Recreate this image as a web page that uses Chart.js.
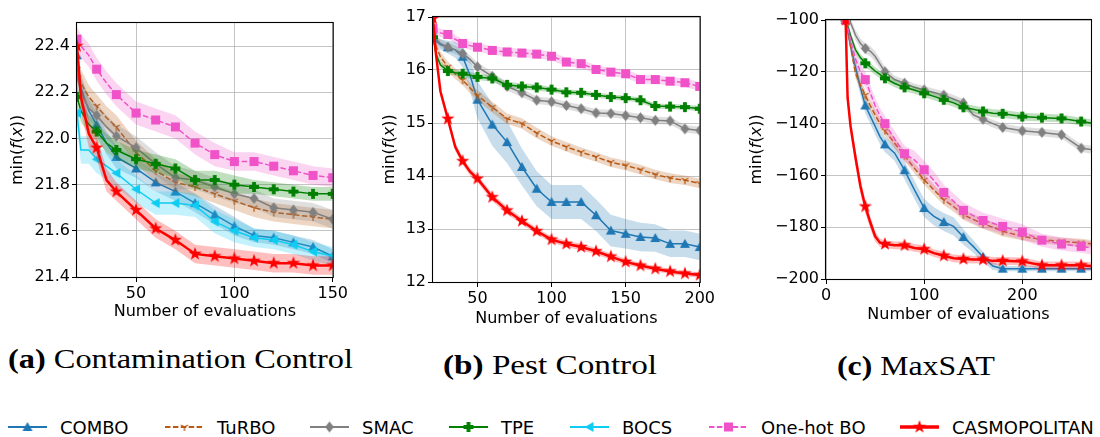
<!DOCTYPE html>
<html>
<head>
<meta charset="utf-8">
<script src="https://cdn.jsdelivr.net/npm/chart.js@4/dist/chart.umd.min.js"></script>
<style>
  body { margin: 0; background: #fff; width: 1100px; height: 437px; position: relative; overflow: hidden; font-family: "DejaVu Sans", sans-serif; }
  canvas.panel { position: absolute; top: 0; }
  .cap { position: absolute; font-family: "Liberation Serif", serif; font-size: 27px; white-space: nowrap; transform-origin: 0 50%; color: #000; line-height: 30px; }
  .leg { position: absolute; display: flex; align-items: center; font-size: 18px; white-space: nowrap; color: #000; }
  .leg canvas { margin-right: 13px; }
</style>
</head>
<body>
<canvas class="panel" id="chartA"></canvas>
<canvas class="panel" id="chartB"></canvas>
<canvas class="panel" id="chartC"></canvas>

<div class="cap" id="capA" data-left="8" data-mid="359" data-width="345"><b>(a)</b> Contamination Control</div>
<div class="cap" id="capB" data-left="443" data-mid="365" data-width="214"><b>(b)</b> Pest Control</div>
<div class="cap" id="capC" data-left="837" data-mid="366" data-width="158"><b>(c)</b> MaxSAT</div>

<div id="legend"></div>

<script>
// ---- series names (legend order) ----
const names = ["COMBO", "TuRBO", "SMAC", "TPE", "BOCS", "One-hot BO", "CASMOPOLITAN"];

// ---- (a) Contamination Control ----
const xA = [20, 22, 26, 30, 35, 40, 50, 60, 70, 80, 90, 100, 110, 120, 130, 140, 150];
const comboA  = [22.36, 22.22, 22.12, 22.06, 21.98, 21.92, 21.87, 21.81, 21.77, 21.72, 21.67, 21.62, 21.58, 21.57, 21.55, 21.53, 21.49];
const turboA  = [22.30, 22.24, 22.18, 22.14, 22.09, 22.05, 21.94, 21.86, 21.81, 21.79, 21.76, 21.73, 21.70, 21.68, 21.67, 21.66, 21.65];
const smacA   = [22.27, 22.20, 22.13, 22.10, 22.05, 22.01, 21.96, 21.89, 21.83, 21.82, 21.79, 21.76, 21.74, 21.70, 21.69, 21.68, 21.65];
const tpeA    = [22.18, 22.12, 22.06, 22.03, 21.98, 21.95, 21.91, 21.89, 21.87, 21.82, 21.82, 21.80, 21.79, 21.78, 21.77, 21.76, 21.76];
const bocsA   = [22.11, 21.95, 21.95, 21.91, 21.88, 21.85, 21.78, 21.72, 21.72, 21.71, 21.64, 21.60, 21.57, 21.56, 21.54, 21.51, 21.49];
const onehotA = [22.43, 22.40, 22.36, 22.30, 22.24, 22.19, 22.11, 22.08, 22.05, 21.98, 21.93, 21.90, 21.90, 21.88, 21.86, 21.84, 21.83];
const casmoA  = [22.40, 22.18, 22.02, 21.96, 21.82, 21.77, 21.69, 21.61, 21.56, 21.50, 21.49, 21.48, 21.47, 21.46, 21.46, 21.45, 21.45];
// half-width of the shaded bands
const comboSA  = [0.06, 0.06, 0.05, 0.05, 0.05, 0.05, 0.04, 0.04, 0.04, 0.04, 0.04, 0.04, 0.03, 0.03, 0.03, 0.03, 0.03];
const turboSA  = [0.06, 0.06, 0.05, 0.05, 0.05, 0.05, 0.05, 0.05, 0.04, 0.04, 0.04, 0.04, 0.04, 0.04, 0.04, 0.04, 0.04];
const smacSA   = [0.06, 0.06, 0.05, 0.05, 0.05, 0.05, 0.05, 0.05, 0.05, 0.04, 0.04, 0.04, 0.04, 0.04, 0.04, 0.04, 0.04];
const tpeSA    = [0.05, 0.05, 0.04, 0.04, 0.04, 0.04, 0.04, 0.04, 0.04, 0.04, 0.04, 0.04, 0.03, 0.03, 0.03, 0.03, 0.03];
const bocsSA   = [0.06, 0.06, 0.06, 0.06, 0.06, 0.06, 0.06, 0.05, 0.05, 0.05, 0.05, 0.05, 0.04, 0.04, 0.04, 0.04, 0.04];
const onehotSA = [0.05, 0.05, 0.05, 0.05, 0.05, 0.05, 0.05, 0.05, 0.05, 0.05, 0.05, 0.04, 0.04, 0.04, 0.04, 0.04, 0.04];
const casmoSA  = [0.05, 0.06, 0.06, 0.05, 0.05, 0.04, 0.04, 0.04, 0.04, 0.04, 0.04, 0.04, 0.04, 0.04, 0.04, 0.04, 0.04];
const xTicksA = [50, 100, 150];
const yTicksA = [21.4, 21.6, 21.8, 22.0, 22.2, 22.4];

// ---- (b) Pest Control ----
const xB = [20, 22, 25, 30, 35, 40, 45, 50, 60, 70, 80, 90, 100, 110, 120, 130, 140, 150, 160, 170, 180, 190, 200];
const comboB  = [16.62, 16.55, 16.48, 16.43, 16.38, 16.25, 15.90, 15.44, 14.97, 14.64, 14.17, 13.76, 13.51, 13.51, 13.51, 13.26, 12.97, 12.91, 12.85, 12.83, 12.72, 12.72, 12.66];
const turboB  = [16.62, 16.45, 16.25, 16.06, 15.93, 15.81, 15.66, 15.52, 15.30, 15.08, 14.99, 14.81, 14.66, 14.55, 14.45, 14.36, 14.26, 14.20, 14.12, 14.03, 13.96, 13.92, 13.86];
const smacB   = [16.69, 16.60, 16.50, 16.43, 16.38, 16.31, 16.20, 16.06, 15.88, 15.69, 15.57, 15.43, 15.40, 15.33, 15.27, 15.19, 15.18, 15.14, 15.10, 15.05, 15.04, 14.89, 14.86];
const tpeB    = [16.62, 16.30, 16.10, 15.98, 15.95, 15.93, 15.90, 15.87, 15.84, 15.72, 15.69, 15.67, 15.63, 15.58, 15.57, 15.53, 15.49, 15.47, 15.43, 15.32, 15.31, 15.30, 15.27];
const onehotB = [16.78, 16.74, 16.70, 16.67, 16.58, 16.50, 16.46, 16.43, 16.37, 16.34, 16.32, 16.30, 16.26, 16.15, 16.12, 16.01, 15.96, 15.93, 15.82, 15.82, 15.79, 15.76, 15.69];
const casmoB  = [16.97, 16.30, 15.60, 15.08, 14.55, 14.28, 14.08, 13.95, 13.60, 13.35, 13.15, 12.96, 12.80, 12.72, 12.66, 12.58, 12.48, 12.38, 12.31, 12.25, 12.20, 12.16, 12.13];
const comboSB  = [0.05, 0.07, 0.10, 0.12, 0.15, 0.20, 0.30, 0.35, 0.40, 0.40, 0.35, 0.33, 0.32, 0.32, 0.32, 0.30, 0.30, 0.28, 0.27, 0.26, 0.25, 0.25, 0.25];
const turboSB  = [0.10, 0.10, 0.10, 0.10, 0.10, 0.10, 0.10, 0.10, 0.10, 0.10, 0.10, 0.10, 0.09, 0.09, 0.09, 0.09, 0.09, 0.09, 0.09, 0.09, 0.09, 0.09, 0.09];
const smacSB   = [0.08, 0.08, 0.08, 0.08, 0.08, 0.08, 0.08, 0.08, 0.08, 0.08, 0.08, 0.07, 0.07, 0.07, 0.07, 0.07, 0.07, 0.07, 0.07, 0.07, 0.07, 0.07, 0.07];
const tpeSB    = [0.08, 0.07, 0.06, 0.06, 0.06, 0.06, 0.06, 0.06, 0.06, 0.06, 0.06, 0.06, 0.05, 0.05, 0.05, 0.05, 0.05, 0.05, 0.05, 0.05, 0.05, 0.05, 0.05];
const onehotSB = [0.08, 0.08, 0.08, 0.08, 0.08, 0.08, 0.08, 0.08, 0.08, 0.08, 0.08, 0.08, 0.08, 0.08, 0.08, 0.08, 0.08, 0.08, 0.08, 0.08, 0.08, 0.08, 0.08];
const casmoSB  = [0.08, 0.09, 0.09, 0.08, 0.08, 0.07, 0.07, 0.07, 0.07, 0.07, 0.06, 0.06, 0.06, 0.06, 0.06, 0.06, 0.06, 0.06, 0.05, 0.05, 0.05, 0.05, 0.05];
const xTicksB = [50, 100, 150, 200];
const yTicksB = [12, 13, 14, 15, 16, 17];

// ---- (c) MaxSAT ----
const xC = [20, 22, 25, 30, 35, 40, 45, 50, 55, 60, 70, 80, 90, 100, 110, 120, 130, 140, 150, 160, 170, 180, 200, 220, 240, 260, 270];
const comboC  = [-100, -104, -110, -118, -126, -133, -137, -141, -145, -148, -151.4, -158, -165.5, -172.6, -175.8, -178, -179.7, -183.8, -187.4, -191.5, -195, -196, -196, -196, -196, -196, -196];
const turboC  = [-100, -103, -110, -120.5, -125, -129, -133, -136.6, -140, -142.7, -147.6, -152.4, -157.2, -161.7, -165.6, -169.4, -172, -175.2, -177, -178.7, -180, -181.6, -183.5, -184.8, -185.5, -186, -186.4];
const smacC   = [-100, -100, -101, -105.8, -109, -111, -112, -114, -117, -120, -123, -124.4, -126, -127, -128, -129, -130.5, -132, -136.6, -138.3, -140, -141.5, -142.8, -143.4, -144.3, -149.5, -150];
const tpeC    = [-100, -102, -106, -111.5, -114.5, -116.7, -118, -119.7, -121, -122.5, -124.5, -126, -127, -128.3, -129.5, -130.8, -132, -133.7, -134.5, -135.3, -136, -136.2, -137.3, -137.7, -138, -139.2, -139.8];
const onehotC = [-100, -103, -108, -115, -120, -123, -128, -133, -137, -140, -146, -151.6, -154, -157.8, -162, -166.6, -170, -173.5, -175.5, -177.4, -178.5, -179.7, -181.9, -185, -186.5, -187.4, -188];
const casmoC  = [-100, -130, -141, -153, -164, -172, -178, -183.5, -186, -186.5, -187, -187, -188, -188.5, -190, -191, -192, -192.3, -192.5, -192.5, -193, -193, -193.2, -194.7, -194.7, -194.7, -195];
const comboSC  = [1.5, 2, 2.5, 3, 3, 3, 3, 3, 3, 3, 3, 3.5, 3.5, 3.5, 3.5, 3.5, 3.5, 3, 2.5, 2, 1.5, 1, 1, 1, 1, 1, 1];
const turboSC  = [1.5, 2, 2, 2, 2, 2, 2, 2, 2, 2, 2, 2, 2, 2, 2, 2, 2, 2, 2, 2, 2, 2, 1.5, 1.5, 1.5, 1.5, 1.5];
const smacSC   = [1.5, 1.5, 1.5, 2, 2, 2, 2, 2, 2, 2, 1.5, 1.5, 1.5, 1.5, 1.5, 1.5, 1.5, 1.5, 1.5, 1.5, 1.5, 1.5, 1.5, 1.5, 1.5, 1.5, 1.5];
const tpeSC    = [1.5, 1.5, 1.5, 1.5, 1.5, 1.5, 1.5, 1.5, 1.5, 1.5, 1.5, 1.5, 1.5, 1.5, 1.5, 1.5, 1.5, 1.5, 1.5, 1.5, 1.5, 1.5, 1.5, 1.5, 1.5, 1.5, 1.5];
const onehotSC = [2, 2, 2.5, 3, 3, 3, 3, 3, 3, 3, 3, 3, 3.5, 3.5, 3.5, 3, 3, 3, 3, 3, 3, 3, 3, 2.5, 2.5, 2.5, 2.5];
const casmoSC  = [2, 3, 3, 3, 3, 2.5, 2.5, 2, 1.5, 1.5, 1.5, 1.5, 1.5, 1.5, 1.5, 1.5, 1.5, 1.5, 1.5, 1.5, 1.5, 1.5, 1.5, 1.5, 1.5, 1.5, 1.5];
const xTicksC = [0, 100, 200];
const yTicksC = [-200, -180, -160, -140, -120, -100];

// ---- styles ----
const styles = {
  "COMBO":        { color: "#1f77b4", shape: "triUp",   size: 10, width: 1.5, dash: [] },
  "TuRBO":        { color: "#b85a14", shape: "triDown", size: 8,  width: 1.5, dash: [5.5, 2.4] },
  "SMAC":         { color: "#808080", shape: "diamond", size: 11, width: 1.5, dash: [] },
  "TPE":          { color: "#008000", shape: "plus",    size: 10, width: 1.5, dash: [] },
  "BOCS":         { color: "#0fcdf2", shape: "triLeft", size: 10, width: 1.5, dash: [] },
  "One-hot BO":   { color: "#f052c8", shape: "square",  size: 9,  width: 1.5, dash: [5.5, 2.4] },
  "CASMOPOLITAN": { color: "#ff0000", shape: "star",    size: 14, width: 2.5, dash: [] },
};

function rgba(hex, a) {
  const n = parseInt(hex.slice(1), 16);
  return `rgba(${(n >> 16) & 255},${(n >> 8) & 255},${n & 255},${a})`;
}

function makeMarker(shape, color, size) {
  const c = document.createElement("canvas");
  c.width = c.height = size + 2;
  const g = c.getContext("2d");
  const m = (size + 2) / 2, r = size / 2;
  g.fillStyle = color;
  g.strokeStyle = color;
  g.lineWidth = 1;
  g.beginPath();
  if (shape === "triUp") {
    g.moveTo(m, m - r); g.lineTo(m + r, m + r * 0.8); g.lineTo(m - r, m + r * 0.8);
  } else if (shape === "triLeft") {
    g.moveTo(m - r, m); g.lineTo(m + r * 0.8, m - r); g.lineTo(m + r * 0.8, m + r);
  } else if (shape === "diamond") {
    g.moveTo(m, m - r); g.lineTo(m + r * 0.8, m); g.lineTo(m, m + r); g.lineTo(m - r * 0.8, m);
  } else if (shape === "square") {
    g.rect(m - r, m - r, size, size);
  } else if (shape === "plus") {
    const w = r * 0.38;
    g.moveTo(m - w, m - r); g.lineTo(m + w, m - r); g.lineTo(m + w, m - w); g.lineTo(m + r, m - w);
    g.lineTo(m + r, m + w); g.lineTo(m + w, m + w); g.lineTo(m + w, m + r); g.lineTo(m - w, m + r);
    g.lineTo(m - w, m + w); g.lineTo(m - r, m + w); g.lineTo(m - r, m - w); g.lineTo(m - w, m - w);
  } else if (shape === "star") {
    for (let i = 0; i < 10; i++) {
      const rad = i % 2 === 0 ? r : r * 0.4;
      const ang = -Math.PI / 2 + i * Math.PI / 5;
      g.lineTo(m + rad * Math.cos(ang), m + rad * Math.sin(ang));
    }
  } else if (shape === "triDown") {
    g.moveTo(m, m); g.lineTo(m, m + r);
    g.moveTo(m, m); g.lineTo(m - r * 0.87, m - r * 0.5);
    g.moveTo(m, m); g.lineTo(m + r * 0.87, m - r * 0.5);
    g.lineWidth = 1.3;
    g.stroke();
    return c;
  }
  g.closePath();
  g.fill();
  return c;
}

const markers = {};
names.forEach(n => { markers[n] = makeMarker(styles[n].shape, styles[n].color, styles[n].size); });

// axis frame + axis titles (mixed italic in the y title)
const axisText = {
  id: "axisText",
  afterDraw(chart, args, opts) {
    const { ctx, chartArea: a } = chart;
    ctx.save();
    ctx.strokeStyle = "#000";
    ctx.lineWidth = 1.1;
    ctx.strokeRect(a.left - 0.5, a.top - 0.5, a.right - a.left + 1, a.bottom - a.top + 1);

    ctx.fillStyle = "#000";
    ctx.textBaseline = "middle";
    ctx.textAlign = "center";
    ctx.font = '16px "DejaVu Sans"';
    ctx.fillText("Number of evaluations", (a.left + a.right) / 2, a.bottom + opts.xOff);

    const parts = [["min(", ""], ["f", "oblique "], ["(", ""], ["x", "oblique "], ["))", ""]];
    let total = 0;
    const widths = parts.map(([t, s]) => { ctx.font = s + '16px "DejaVu Sans"'; const w = ctx.measureText(t).width; total += w; return w; });
    ctx.translate(a.left - opts.yOff, (a.top + a.bottom) / 2);
    ctx.rotate(-Math.PI / 2);
    ctx.textAlign = "left";
    let px = -total / 2;
    parts.forEach(([t, s], i) => { ctx.font = s + '16px "DejaVu Sans"'; ctx.fillText(t, px, 0); px += widths[i]; });
    ctx.restore();
  }
};

function buildDatasets(xs, series, markStep) {
  const ds = [];
  series.forEach((s, k) => {
    const st = styles[s.name];
    const base = 1000 - k * 10;
    ds.push({ data: xs.map((x, i) => ({ x, y: s.y[i] - s.band[i] })), borderWidth: 0, pointRadius: 0, fill: false, order: base + 2 });
    ds.push({ data: xs.map((x, i) => ({ x, y: s.y[i] + s.band[i] })), borderWidth: 0, pointRadius: 0,
              fill: "-1", backgroundColor: rgba(st.color, 0.25), order: base + 1 });
    ds.push({
      data: xs.map((x, i) => ({ x, y: s.y[i] })),
      borderColor: st.color, borderWidth: st.width, borderDash: st.dash, fill: false,
      pointStyle: markers[s.name],
      pointRadius: ctx => (ctx.raw && ctx.raw.x % markStep === 0 ? 5 : 0),
      order: base
    });
  });
  return ds;
}

function makePanel(id, box, xs, series, x, y, markStep, fmt, titleOff) {
  const cv = document.getElementById(id);
  const width = box.r + box.padR - box.start;
  cv.width = width;
  cv.height = box.b + 60;
  cv.style.left = box.start + "px";
  const tickStyle = { color: "#000", font: { family: "DejaVu Sans", size: 16 }, padding: 2 };
  const grid = { color: "rgba(176,176,176,0.75)", lineWidth: 1, tickColor: "#000", tickLength: 5 };
  new Chart(cv, {
    type: "line",
    data: { datasets: buildDatasets(xs, series, markStep) },
    options: {
      responsive: false, animation: false, events: [],
      layout: { padding: { left: 0, top: box.t, right: box.padR, bottom: 0 } },
      elements: { line: { tension: 0 } },
      plugins: { legend: { display: false }, tooltip: { enabled: false }, axisText: titleOff },
      scales: {
        x: {
          type: "linear", min: x.min, max: x.max,
          afterBuildTicks: sc => { sc.ticks = x.ticks.map(v => ({ value: v })); },
          afterFit: sc => { sc.height = 60; },
          ticks: { ...tickStyle, maxRotation: 0, callback: v => String(v) },
          grid, border: { display: false }
        },
        y: {
          type: "linear", min: y.min, max: y.max,
          afterBuildTicks: sc => { sc.ticks = y.ticks.map(v => ({ value: v })); },
          afterFit: sc => { sc.width = box.l - box.start; },
          ticks: { ...tickStyle, callback: fmt },
          grid, border: { display: false }
        }
      }
    },
    plugins: [axisText]
  });
}

makePanel("chartA", { start: 0, l: 77, r: 338, t: 23, b: 277, padR: 12 }, xA, [
  { name: "COMBO", y: comboA, band: comboSA },
  { name: "TuRBO", y: turboA, band: turboSA },
  { name: "SMAC", y: smacA, band: smacSA },
  { name: "TPE", y: tpeA, band: tpeSA },
  { name: "BOCS", y: bocsA, band: bocsSA },
  { name: "One-hot BO", y: onehotA, band: onehotSA },
  { name: "CASMOPOLITAN", y: casmoA, band: casmoSA },
], { min: 20, max: 150, ticks: xTicksA }, { min: 21.4, max: 22.5, ticks: yTicksA }, 10,
  v => v.toFixed(1), { xOff: 35, yOff: 59 });

makePanel("chartB", { start: 360, l: 433, r: 705, t: 17, b: 282, padR: 12 }, xB, [
  { name: "COMBO", y: comboB, band: comboSB },
  { name: "TuRBO", y: turboB, band: turboSB },
  { name: "SMAC", y: smacB, band: smacSB },
  { name: "TPE", y: tpeB, band: tpeSB },
  { name: "One-hot BO", y: onehotB, band: onehotSB },
  { name: "CASMOPOLITAN", y: casmoB, band: casmoSB },
], { min: 20, max: 200, ticks: xTicksB }, { min: 12, max: 17, ticks: yTicksB }, 10,
  v => String(v), { xOff: 37, yOff: 43 });

makePanel("chartC", { start: 740, l: 826, r: 1091, t: 20, b: 279, padR: 9 }, xC, [
  { name: "COMBO", y: comboC, band: comboSC },
  { name: "TuRBO", y: turboC, band: turboSC },
  { name: "SMAC", y: smacC, band: smacSC },
  { name: "TPE", y: tpeC, band: tpeSC },
  { name: "One-hot BO", y: onehotC, band: onehotSC },
  { name: "CASMOPOLITAN", y: casmoC, band: casmoSC },
], { min: 0, max: 270, ticks: xTicksC }, { min: -200, max: -100, ticks: yTicksC }, 20,
  v => (v < 0 ? "\u2212" + Math.abs(v) : String(v)), { xOff: 36, yOff: 69 });

// ---- captions: fit to the measured widths ----
document.querySelectorAll(".cap").forEach(el => {
  const w = el.getBoundingClientRect().width;
  const target = +el.dataset.width;
  el.style.left = el.dataset.left + "px";
  el.style.top = (+el.dataset.mid - 15) + "px";
  el.style.transform = `scaleX(${target / w})`;
});

// ---- legend ----
const legendLeft = [8, 165, 310, 449, 570, 709, 900];
const legend = document.getElementById("legend");
names.forEach((n, i) => {
  const st = styles[n];
  const item = document.createElement("div");
  item.className = "leg";
  item.style.left = legendLeft[i] + "px";
  item.style.top = "415px";
  const c = document.createElement("canvas");
  c.width = 39; c.height = 24;
  const g = c.getContext("2d");
  g.strokeStyle = st.color;
  g.lineWidth = n === "CASMOPOLITAN" ? 3.5 : 2.2;
  g.setLineDash(st.dash);
  g.beginPath(); g.moveTo(0, 12); g.lineTo(39, 12); g.stroke();
  const mk = markers[n];
  g.drawImage(mk, 19.5 - mk.width / 2, 12 - mk.height / 2);
  item.appendChild(c);
  const t = document.createElement("span");
  t.textContent = n;
  item.appendChild(t);
  legend.appendChild(item);
});
</script>
</body>
</html>
